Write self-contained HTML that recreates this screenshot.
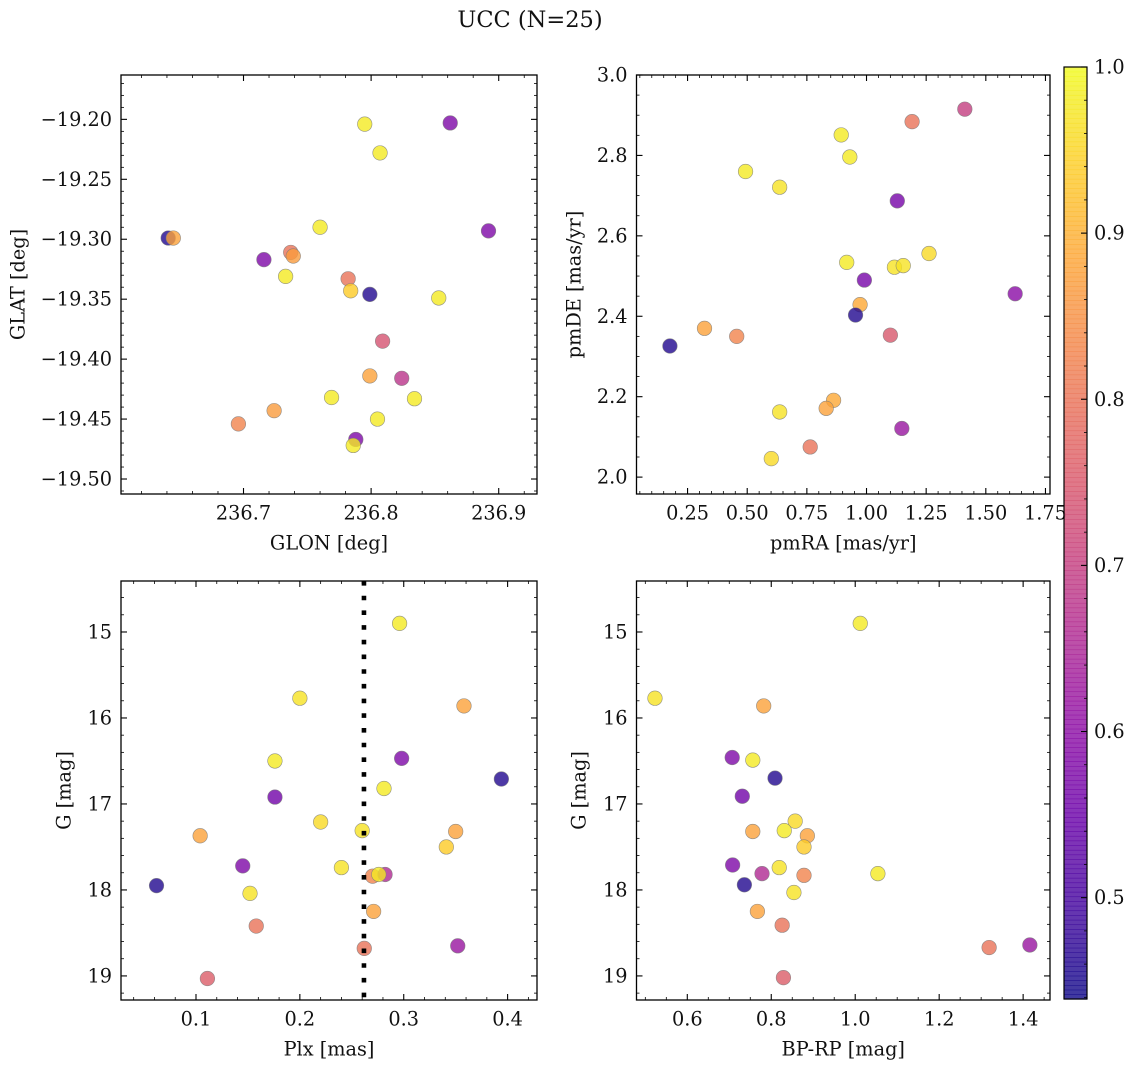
<!DOCTYPE html>
<html><head><meta charset="utf-8"><style>
html,body{margin:0;padding:0;background:#fff;}
svg{position:absolute;left:0;top:0;}
text{font-family:"DejaVu Serif","Liberation Serif",serif;font-size:19.3px;fill:#111;}
</style></head><body>
<svg id="fig" width="1136" height="1067" viewBox="0 0 1136 1067" xmlns="http://www.w3.org/2000/svg">
<text x="530" y="20" text-anchor="middle" dominant-baseline="central" style="font-size:22.5px">UCC (N=25)</text>
</svg>
<script>
// ---- Panel 1: GLON vs GLAT ----
const p1Glon=[236.795,236.862,236.807,236.641,236.645,236.892,236.760,236.716,236.737,236.739,236.733,236.782,236.784,236.799,236.853,236.809,236.799,236.824,236.769,236.834,236.724,236.696,236.805,236.788,236.786];
const p1Glat=[-19.204,-19.203,-19.228,-19.299,-19.299,-19.293,-19.290,-19.317,-19.311,-19.314,-19.331,-19.333,-19.343,-19.346,-19.349,-19.385,-19.414,-19.416,-19.432,-19.433,-19.443,-19.454,-19.450,-19.467,-19.472];
const p1Prob=[0.98,0.58,0.98,0.46,0.88,0.58,0.98,0.58,0.80,0.87,0.98,0.80,0.94,0.46,0.98,0.74,0.88,0.68,0.98,0.98,0.87,0.83,0.98,0.58,0.98];
// ---- Panel 2: pmRA vs pmDE ----
const p2PmRA=[1.412,1.191,0.894,0.930,0.493,0.636,1.129,0.917,1.117,1.154,1.262,0.991,1.623,0.973,0.954,0.321,0.456,1.100,0.176,0.862,0.831,0.636,1.148,0.764,0.601];
const p2PmDE=[2.915,2.884,2.851,2.796,2.760,2.721,2.687,2.534,2.522,2.526,2.556,2.490,2.456,2.429,2.403,2.370,2.350,2.353,2.326,2.191,2.171,2.162,2.121,2.075,2.046];
const p2Prob=[0.70,0.80,0.98,0.98,0.98,0.97,0.57,0.98,0.97,0.97,0.96,0.57,0.60,0.89,0.46,0.88,0.83,0.75,0.46,0.89,0.88,0.97,0.62,0.80,0.96];
// ---- Panel 3: Plx vs G ----
const p3Plx=[0.296,0.200,0.358,0.176,0.298,0.394,0.281,0.176,0.220,0.260,0.104,0.350,0.341,0.145,0.240,0.270,0.282,0.276,0.062,0.152,0.271,0.158,0.262,0.352,0.111];
const p3G=[14.90,15.77,15.86,16.50,16.47,16.71,16.82,16.92,17.21,17.31,17.37,17.32,17.50,17.72,17.74,17.84,17.82,17.82,17.95,18.04,18.25,18.42,18.68,18.65,19.03];
const p3Prob=[0.98,0.97,0.88,0.98,0.58,0.46,0.98,0.56,0.96,0.97,0.88,0.88,0.94,0.58,0.97,0.83,0.66,0.98,0.46,0.97,0.88,0.80,0.80,0.62,0.76];
const p3PlxLine=[0.2617];
// ---- Panel 4: BP-RP vs G ----
const p4BpRp=[1.012,0.523,0.782,0.707,0.756,0.809,0.731,0.857,0.756,0.831,0.886,0.878,0.708,0.819,0.778,0.878,1.054,0.736,0.854,0.767,0.826,0.829,1.319,1.416];
const p4G=[14.90,15.77,15.86,16.46,16.49,16.70,16.91,17.20,17.32,17.31,17.37,17.50,17.71,17.74,17.81,17.83,17.81,17.94,18.03,18.25,18.41,19.02,18.67,18.64];
const p4Prob=[0.98,0.97,0.88,0.58,0.98,0.46,0.56,0.96,0.88,0.98,0.88,0.94,0.58,0.97,0.66,0.83,0.98,0.46,0.97,0.88,0.80,0.76,0.80,0.62];
// ---- Colorbar ----
const cbTicks=[0.5,0.6,0.7,0.8,0.9,1.0];
const cbRange=[0.439,1.0];

const NS="http://www.w3.org/2000/svg";
const fig=document.getElementById('fig');
const plasmaStops=["#0d0887","#41049d","#6a00a8","#8f0da4","#b12a90","#cc4778","#e16462","#f2844b","#fca636","#fcce25","#f0f921"];
function hex(h){return [parseInt(h.substr(1,2),16),parseInt(h.substr(3,2),16),parseInt(h.substr(5,2),16)];}
function plasma(t){
  t=Math.max(0,Math.min(1,t));
  const f=t*10, i=Math.min(9,Math.floor(f)), u=f-i;
  const a=hex(plasmaStops[i]), b=hex(plasmaStops[i+1]);
  return 'rgb('+a.map((v,k)=>Math.round(v+(b[k]-v)*u)).join(',')+')';
}
function cnorm(v){return (v-cbRange[0])/(cbRange[1]-cbRange[0]);}
function mk(tag,attrs,parent){const e=document.createElementNS(NS,tag);for(const k in attrs)e.setAttribute(k,attrs[k]);(parent||fig).appendChild(e);return e;}
function fmt(v,d){return v.toFixed(d).replace('-','\u2212');}

function makeAxes(c){
  const sx=v=>c.x0+(v-c.xlim[0])/(c.xlim[1]-c.xlim[0])*(c.x1-c.x0);
  const sy=c.invert?(v=>c.y0+(v-c.ylim[0])/(c.ylim[1]-c.ylim[0])*(c.y1-c.y0)):(v=>c.y1-(v-c.ylim[0])/(c.ylim[1]-c.ylim[0])*(c.y1-c.y0));
  const g=mk('g',{});
  
  
  const xi0=Math.ceil(c.xlim[0]/c.xminor-1e-6), xi1=Math.floor(c.xlim[1]/c.xminor+1e-6);
  const ratioX=Math.round(c.xmajor/c.xminor);
  for(let i=xi0;i<=xi1;i++){
    const v=i*c.xminor, X=sx(v), major=(((i%ratioX)+ratioX)%ratioX)===0, L=major?6:3;
    mk('line',{x1:X,x2:X,y1:c.y1,y2:c.y1-L,stroke:'#000','stroke-width':major?1.1:0.8},g);
    mk('line',{x1:X,x2:X,y1:c.y0,y2:c.y0+L,stroke:'#000','stroke-width':major?1.1:0.8},g);
    if(major&&c.xlabels){
      const t=mk('text',{x:X,y:c.y1+19,'text-anchor':'middle','dominant-baseline':'central'},g);
      t.textContent=fmt(v,c.xdec);
      
      
    }
  }
  const yi0=Math.ceil(Math.min(c.ylim[0],c.ylim[1])/c.yminor-1e-6), yi1=Math.floor(Math.max(c.ylim[0],c.ylim[1])/c.yminor+1e-6);
  const ratioY=Math.round(c.ymajor/c.yminor);
  for(let i=yi0;i<=yi1;i++){
    const v=i*c.yminor, Y=sy(v), major=(((i%ratioY)+ratioY)%ratioY)===0, L=major?6:3;
    mk('line',{x1:c.x0,x2:c.x0+L,y1:Y,y2:Y,stroke:'#000','stroke-width':major?1.1:0.8},g);
    mk('line',{x1:c.x1,x2:c.x1-L,y1:Y,y2:Y,stroke:'#000','stroke-width':major?1.1:0.8},g);
    if(major){
      const t=mk('text',{x:c.x0-9,y:Y,'text-anchor':'end','dominant-baseline':'central'},g);
      t.textContent=fmt(v,c.ydec);
      
      
    }
  }
  const xl=mk('text',{x:(c.x0+c.x1)/2,y:c.y1+49,'text-anchor':'middle','dominant-baseline':'central'},g);
  xl.textContent=c.xtitle;
  
  
  const yl=mk('text',{x:c.ytx,y:(c.y0+c.y1)/2,'text-anchor':'middle','dominant-baseline':'central',transform:'rotate(-90 '+c.ytx+' '+((c.y0+c.y1)/2)+')'},g);
  yl.textContent=c.ytitle;
  
  
  return {sx,sy,g};
}
function scatter(ax,xs,ys,ps,name){
  const g=mk('g',{});
  
  
  for(let i=0;i<xs.length;i++){
    const cpt=mk('circle',{cx:ax.sx(xs[i]),cy:ax.sy(ys[i]),r:7.3,fill:plasma(cnorm(ps[i])),'fill-opacity':0.8,stroke:'#7a7a7a','stroke-opacity':0.8,'stroke-width':0.6},g);
    
    
  }
}
function frame(c){
  const r=mk('rect',{x:c.x0,y:c.y0,width:c.x1-c.x0,height:c.y1-c.y0,fill:'none',stroke:'#000','stroke-width':1.3});
  
  
}

const c1={name:'glon-glat',x0:121,x1:537,y0:75,y1:494,xlim:[236.604,236.930],ylim:[-19.5125,-19.163],xmajor:0.1,xminor:0.02,ymajor:0.05,yminor:0.01,xdec:1,ydec:2,xlabels:true,xtitle:'GLON [deg]',ytitle:'GLAT [deg]',ytx:18};
const a1=makeAxes(c1); scatter(a1,p1Glon,p1Glat,p1Prob,'glon-glat'); frame(c1);

const c2={name:'pm',x0:636.5,x1:1050,y0:75,y1:494,xlim:[0.036,1.769],ylim:[1.958,3.0],xmajor:0.25,xminor:0.05,ymajor:0.2,yminor:0.05,xdec:2,ydec:1,xlabels:true,xtitle:'pmRA [mas/yr]',ytitle:'pmDE [mas/yr]',ytx:574};
const a2=makeAxes(c2); scatter(a2,p2PmRA,p2PmDE,p2Prob,'pm'); frame(c2);

const c3={name:'plx-g',x0:121,x1:537,y0:581,y1:1000,xlim:[0.0278,0.4283],ylim:[14.407,19.28],invert:true,xmajor:0.1,xminor:0.02,ymajor:1,yminor:0.2,xdec:1,ydec:0,xlabels:true,xtitle:'Plx [mas]',ytitle:'G [mag]',ytx:64};
const a3=makeAxes(c3);
scatter(a3,p3Plx,p3G,p3Prob,'plx-g');
p3PlxLine.forEach(v=>{
  const ln=mk('line',{x1:a3.sx(v),x2:a3.sx(v),y1:c3.y0,y2:c3.y1,stroke:'#000','stroke-width':4.6,'stroke-dasharray':'4.6 10.1'});
  
  
});
frame(c3);

const c4={name:'cmd',x0:636.5,x1:1050,y0:581,y1:1000,xlim:[0.479,1.464],ylim:[14.407,19.28],invert:true,xmajor:0.2,xminor:0.05,ymajor:1,yminor:0.2,xdec:1,ydec:0,xlabels:true,xtitle:'BP-RP [mag]',ytitle:'G [mag]',ytx:579};
const a4=makeAxes(c4); scatter(a4,p4BpRp,p4G,p4Prob,'cmd'); frame(c4);

// colorbar
const cb={x0:1064,x1:1087,y0:67,y1:999};
const cbg=mk('g',{});


const N=200;
for(let i=0;i<N;i++){
  const y=cb.y0+(cb.y1-cb.y0)*i/N;
  mk('rect',{x:cb.x0,y:y,width:cb.x1-cb.x0,height:(cb.y1-cb.y0)/N+0.6,fill:plasma(1-i/N),'fill-opacity':0.8},cbg);
}
const cby=v=>cb.y1-(v-cbRange[0])/(cbRange[1]-cbRange[0])*(cb.y1-cb.y0);
for(let i=22;i<=50;i++){
  const v=i*0.02; if(v<cbRange[0]-1e-9||v>cbRange[1]+1e-9)continue;
  const major=(i%5)===0, Y=cby(v);
  mk('line',{x1:cb.x1,x2:cb.x1-(major?6:3),y1:Y,y2:Y,stroke:'#000','stroke-width':major?1.1:0.8},cbg);
}
cbTicks.forEach(v=>{
  const t=mk('text',{x:cb.x1+7,y:cby(v),'text-anchor':'start','dominant-baseline':'central'},cbg);
  t.textContent=v.toFixed(1);
  
  
});
mk('rect',{x:cb.x0,y:cb.y0,width:cb.x1-cb.x0,height:cb.y1-cb.y0,fill:'none',stroke:'#000','stroke-width':1.2},cbg);
</script>
</body></html>
